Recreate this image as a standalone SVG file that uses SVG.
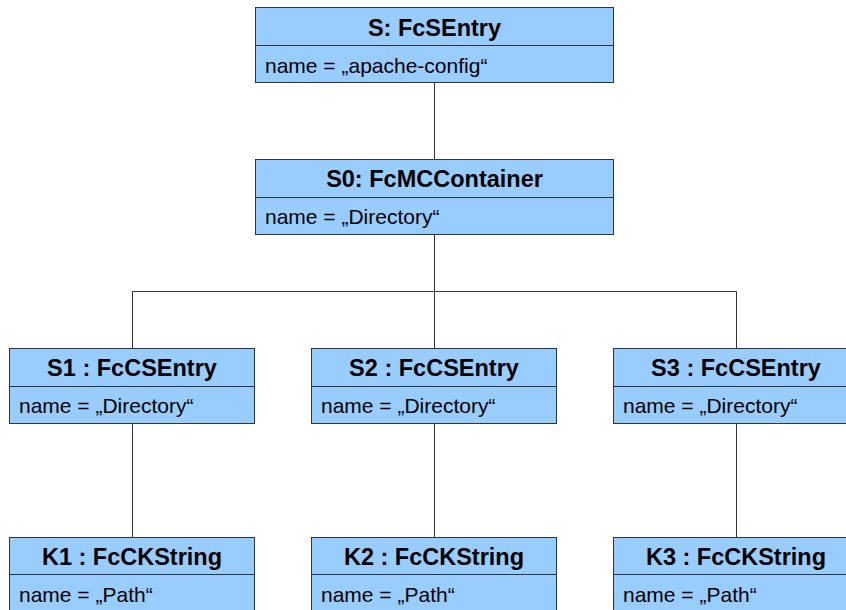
<svg xmlns="http://www.w3.org/2000/svg" width="846" height="610" viewBox="0 0 846 610">
  <style>
    .box { fill: #99ccff; stroke: #333333; stroke-width: 1; }
    .sep { stroke: #333333; stroke-width: 1; }
    .title { font-family: "Liberation Sans", Arial, sans-serif; font-weight: bold; font-size: 23.5px; text-anchor: middle; fill: #000; }
    .attr { font-family: "Liberation Sans", Arial, sans-serif; font-size: 21px; fill: #000; }
    .link { fill: none; stroke: #333333; stroke-width: 1; }
  </style>
  <rect width="846" height="610" fill="#ffffff"/>

  <!-- tree connectors -->
  <g id="connectors">
    <path class="link" d="M434.5 82 V159"/>
    <path class="link" d="M434.5 234 V348"/>
    <path class="link" d="M132.5 348 V291.5 H736.5 V348"/>
    <path class="link" d="M132.5 423 V537"/>
    <path class="link" d="M434.5 423 V537"/>
    <path class="link" d="M736.5 423 V537"/>
  </g>

  <g id="S">
    <rect class="box" x="255.5" y="7.5" width="358" height="75"/>
    <line class="sep" x1="255.5" y1="45.5" x2="613.5" y2="45.5"/>
    <text class="title" x="434.5" y="36">S: FcSEntry</text>
    <text class="attr" x="265" y="73">name = „apache-config“</text>
  </g>

  <g id="S0">
    <rect class="box" x="255.5" y="159.5" width="358" height="75"/>
    <line class="sep" x1="255.5" y1="197.5" x2="613.5" y2="197.5"/>
    <text class="title" x="434.5" y="187">S0: FcMCContainer</text>
    <text class="attr" x="265" y="224">name = „Directory“</text>
  </g>

  <g id="S1">
    <rect class="box" x="9.5" y="348.5" width="245" height="75"/>
    <line class="sep" x1="9.5" y1="386.5" x2="254.5" y2="386.5"/>
    <text class="title" x="132" y="376">S1 : FcCSEntry</text>
    <text class="attr" x="19" y="413">name = „Directory“</text>
  </g>

  <g id="S2">
    <rect class="box" x="311.5" y="348.5" width="245" height="75"/>
    <line class="sep" x1="311.5" y1="386.5" x2="556.5" y2="386.5"/>
    <text class="title" x="434" y="376">S2 : FcCSEntry</text>
    <text class="attr" x="321" y="413">name = „Directory“</text>
  </g>

  <g id="S3">
    <rect class="box" x="613.5" y="348.5" width="245" height="75"/>
    <line class="sep" x1="613.5" y1="386.5" x2="858.5" y2="386.5"/>
    <text class="title" x="736" y="376">S3 : FcCSEntry</text>
    <text class="attr" x="623" y="413">name = „Directory“</text>
  </g>

  <g id="K1">
    <rect class="box" x="9.5" y="537.5" width="245" height="80"/>
    <line class="sep" x1="9.5" y1="574.5" x2="254.5" y2="574.5"/>
    <text class="title" x="132" y="565">K1 : FcCKString</text>
    <text class="attr" x="19" y="602">name = „Path“</text>
  </g>

  <g id="K2">
    <rect class="box" x="311.5" y="537.5" width="245" height="80"/>
    <line class="sep" x1="311.5" y1="574.5" x2="556.5" y2="574.5"/>
    <text class="title" x="434" y="565">K2 : FcCKString</text>
    <text class="attr" x="321" y="602">name = „Path“</text>
  </g>

  <g id="K3">
    <rect class="box" x="613.5" y="537.5" width="245" height="80"/>
    <line class="sep" x1="613.5" y1="574.5" x2="858.5" y2="574.5"/>
    <text class="title" x="736" y="565">K3 : FcCKString</text>
    <text class="attr" x="623" y="602">name = „Path“</text>
  </g>
</svg>
